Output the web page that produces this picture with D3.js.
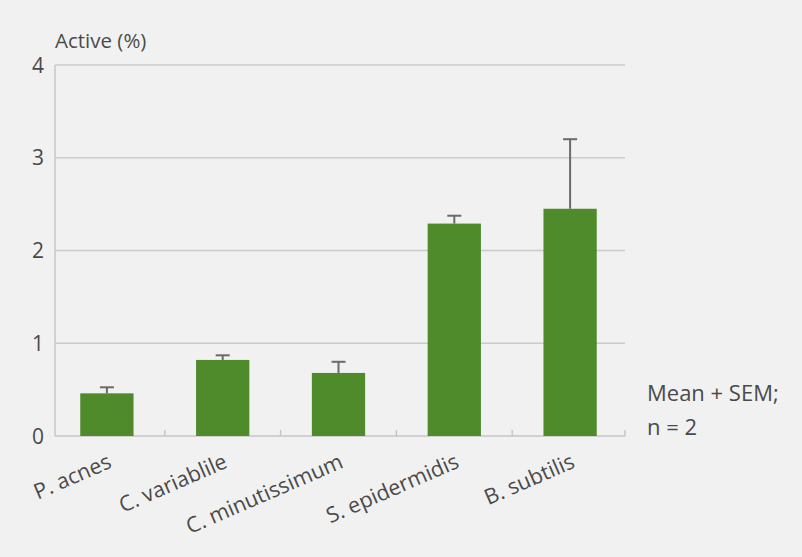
<!DOCTYPE html>
<html><head><meta charset="utf-8">
<script src="https://cdn.jsdelivr.net/npm/d3@7"></script>
<style>
html,body{margin:0;padding:0;background:#f1f1f1;}
svg{display:block;}
text{font-family:"Open Sans","Noto Sans",sans-serif;fill:#4a4a4a;}
</style></head><body>
<svg id="chart" width="802" height="557"></svg>
<script>
const categories = ["P. acnes","C. variablile","C. minutissimum","S. epidermidis","B. subtilis"];
const means = [0.46, 0.82, 0.68, 2.29, 2.45];
const sems = [0.065, 0.05, 0.12, 0.085, 0.75];
const yTicks = [0,1,2,3,4];
const yLabel = "Active (%)";
const noteLines = ["Mean + SEM;","n = 2"];

const svg = d3.select("#chart");
const W = 802, H = 557;
svg.append("rect").attr("width",W).attr("height",H).attr("fill","#f1f1f1");

const axisX0 = 55, axisX1 = 625;
const y = d3.scaleLinear().domain([0,4]).range([436,65]);
const x = d3.scaleBand().domain(categories).range([49,628]).paddingInner(0.54).paddingOuter(0.27);

// gridlines
svg.append("g").selectAll("line").data(yTicks.filter(d=>d>0)).join("line")
  .attr("x1",axisX0).attr("x2",axisX1)
  .attr("y1",d=>y(d)).attr("y2",d=>y(d))
  .attr("stroke","#cbcbcb").attr("stroke-width",1.6);

// y axis line
svg.append("line").attr("x1",axisX0).attr("x2",axisX0).attr("y1",y(4)).attr("y2",y(0))
  .attr("stroke","#cbcbcb").attr("stroke-width",1.6);
// x axis line
svg.append("line").attr("x1",axisX0).attr("x2",axisX1).attr("y1",y(0)).attr("y2",y(0))
  .attr("stroke","#c4c4c4").attr("stroke-width",1.6);
// x ticks between bands
const bandStep = x.step();
const tickXs = categories.map((c,i)=> i===categories.length-1 ? axisX1 : x(c)+x.bandwidth()/2+bandStep/2);
svg.append("g").selectAll("line").data(tickXs).join("line")
  .attr("x1",d=>d).attr("x2",d=>d).attr("y1",y(0)).attr("y2",y(0)-6)
  .attr("stroke","#c4c4c4").attr("stroke-width",1.4);

// y tick labels
svg.append("g").selectAll("text").data(yTicks).join("text")
  .attr("x",44).attr("y",d=>y(d)).attr("dy","0.36em")
  .attr("text-anchor","end").attr("font-size",21).text(d=>d);

svg.append("text").attr("x",55).attr("y",48).attr("font-size",20.5).text(yLabel);

// bars
svg.append("g").selectAll("rect").data(categories).join("rect")
  .attr("x",d=>x(d)).attr("width",x.bandwidth())
  .attr("y",(d,i)=>y(means[i])).attr("height",(d,i)=>y(0)-y(means[i]))
  .attr("fill","#4f8a2b");

// error bars
const eg = svg.append("g").attr("stroke","#6a6a6a").attr("stroke-width",2);
categories.forEach((c,i)=>{
  const cx = x(c)+x.bandwidth()/2;
  eg.append("line").attr("x1",cx).attr("x2",cx).attr("y1",y(means[i])).attr("y2",y(means[i]+sems[i]));
  eg.append("line").attr("x1",cx-7).attr("x2",cx+7).attr("y1",y(means[i]+sems[i])).attr("y2",y(means[i]+sems[i]));
});

// category labels
svg.append("g").selectAll("text").data(categories).join("text")
  .attr("transform",d=>`translate(${x(d)+x.bandwidth()/2+6},${y(0)+31}) rotate(-23.5)`)
  .attr("text-anchor","end").attr("font-size",21.5).text(d=>d);

// note
svg.append("g").selectAll("text").data(noteLines).join("text")
  .attr("x",647).attr("y",(d,i)=>401+i*34).attr("font-size",22).text(d=>d);
</script>
</body></html>
